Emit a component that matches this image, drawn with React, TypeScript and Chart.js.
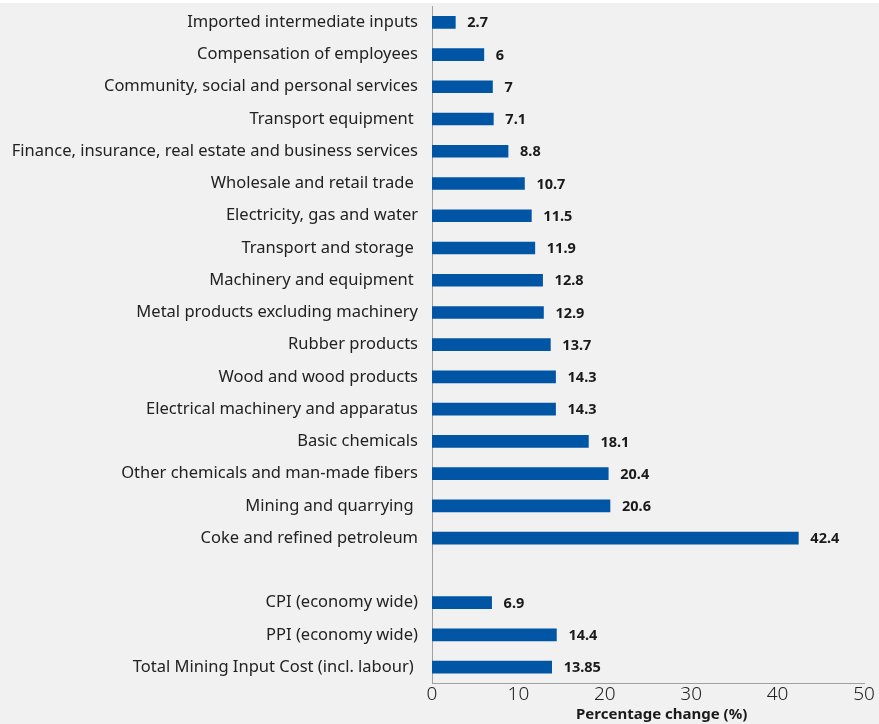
import React, { useEffect, useRef } from "react";
import { Chart, registerables } from "chart.js";

Chart.register(...registerables);

const categories: string[] = [
  "Imported intermediate inputs",
  "Compensation of employees",
  "Community, social and personal services",
  "Transport equipment ",
  "Finance, insurance, real estate and business services",
  "Wholesale and retail trade ",
  "Electricity, gas and water",
  "Transport and storage ",
  "Machinery and equipment ",
  "Metal products excluding machinery",
  "Rubber products",
  "Wood and wood products",
  "Electrical machinery and apparatus",
  "Basic chemicals",
  "Other chemicals and man-made fibers",
  "Mining and quarrying ",
  "Coke and refined petroleum",
  "",
  "CPI (economy wide)",
  "PPI (economy wide)",
  "Total Mining Input Cost (incl. labour) ",
];

const values: (number | null)[] = [
  2.7, 6, 7, 7.1, 8.8, 10.7, 11.5, 11.9, 12.8, 12.9, 13.7, 14.3, 14.3, 18.1, 20.4, 20.6, 42.4,
  null,
  6.9, 14.4, 13.85,
];

const valueLabels: string[] = [
  "2.7", "6", "7", "7.1", "8.8", "10.7", "11.5", "11.9", "12.8", "12.9", "13.7", "14.3", "14.3",
  "18.1", "20.4", "20.6", "42.4", "", "6.9", "14.4", "13.85",
];

const xTicks: number[] = [0, 10, 20, 30, 40, 50];

const FONT = "'Noto Sans', sans-serif";

const valueLabelPlugin = {
  id: "valueLabels",
  afterDatasetsDraw(chart: any) {
    const ctx = chart.ctx;
    const meta = chart.getDatasetMeta(0);
    ctx.save();
    ctx.font = `bold 14.5px ${FONT}`;
    ctx.fillStyle = "#1a1a1a";
    ctx.textAlign = "left";
    ctx.textBaseline = "middle";
    meta.data.forEach((bar: any, i: number) => {
      if (values[i] == null) return;
      ctx.fillText(valueLabels[i], bar.x + 12, bar.y + 1);
    });
    ctx.restore();
  },
};

export default function App() {
  const ref = useRef<HTMLCanvasElement | null>(null);

  useEffect(() => {
    document.body.style.margin = "0";
    document.body.style.background = "#f1f1f1";
    if (!ref.current) return;
    const chart = new Chart(ref.current, {
      type: "bar",
      data: {
        labels: categories,
        datasets: [
          {
            data: values as any,
            backgroundColor: "#0055a4",
            barThickness: 12,
          },
        ],
      },
      options: {
        indexAxis: "y",
        animation: false,
        responsive: false,
        maintainAspectRatio: false,
        layout: { padding: { top: 6, right: 15, bottom: 0, left: 0 } },
        plugins: {
          legend: { display: false },
          tooltip: { enabled: false },
        },
        scales: {
          x: {
            min: 0,
            max: 50,
            afterBuildTicks: (scale: any) => {
              scale.ticks = xTicks.map((v) => ({ value: v }));
            },
            grid: { display: false, drawTicks: false },
            border: { display: true, color: "#a0a0a0", width: 1 },
            ticks: {
              padding: 0,
              color: "#222",
              font: { family: FONT, size: 19, weight: 300 as any },
            },
            title: {
              display: true,
              text: "       Percentage change (%)",
              color: "#1a1a1a",
              font: { family: FONT, size: 15, weight: "bold" },
              padding: { top: 0, bottom: 0 },
            },
          },
          y: {
            grid: {
              display: true,
              drawOnChartArea: false,
              drawTicks: true,
              tickLength: 14,
              color: "rgba(0,0,0,0)",
            },
            border: { display: true, color: "#a0a0a0", width: 1 },
            afterFit: (scale: any) => {
              scale.width = 432;
            },
            ticks: {
              padding: 0,
              color: "#222",
              autoSkip: false,
              font: { family: FONT, size: 16.5, lineHeight: 0.75 },
            },
          },
        },
      },
      plugins: [valueLabelPlugin],
    });
    return () => chart.destroy();
  }, []);

  return (
    <div
      style={{
        width: 879,
        height: 724,
        background: "linear-gradient(#ffffff 0px, #ffffff 3.5px, #f1f1f1 3.5px)",
      }}
    >
      <canvas ref={ref} width={879} height={724} style={{ display: "block" }} />
    </div>
  );
}
